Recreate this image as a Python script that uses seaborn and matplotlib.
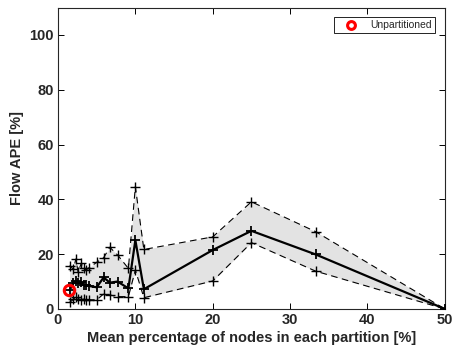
import matplotlib
matplotlib.use("Agg")
import matplotlib.pyplot as plt
import seaborn as sns
import numpy as np

# Mean partition size (% of nodes) and flow APE statistics
partition_pct = [1.5, 2.0, 2.3, 2.6, 3.0, 3.3, 3.6, 4.0, 5.0, 5.9, 6.7, 7.7, 9.1,
                 10.0, 11.1, 20.0, 25.0, 33.3, 50.0]
ape_mean = [6.8, 9.5, 10.2, 9.3, 9.8, 8.8, 8.6, 8.4, 7.9, 11.5, 9.6, 10.0, 7.5,
            25.1, 7.2, 21.5, 28.5, 19.9, 0.0]
ape_upper = [15.8, 14.5, 18.2, 13.5, 16.6, 15.0, 14.2, 15.0, 17.0, 18.7, 22.5, 19.7, 14.8,
             44.6, 21.7, 26.3, 39.1, 28.2, 0.0]
ape_lower = [2.4, 3.5, 4.5, 3.8, 3.2, 3.6, 3.3, 3.4, 3.3, 5.5, 5.1, 4.5, 4.5,
             14.2, 4.1, 10.2, 24.2, 13.8, 0.0]

unpart_x = [1.45]
unpart_y = [6.8]

x_ticks = [0, 10, 20, 30, 40, 50]
y_ticks = [0, 20, 40, 60, 80, 100]

sns.set_style("ticks")
plt.rcParams["font.family"] = ["Liberation Sans", "DejaVu Sans"]
plt.rcParams["font.weight"] = "bold"

fig = plt.figure(figsize=(4.53, 3.58), dpi=100)
ax = fig.add_axes([0.128, 0.137, 0.854, 0.842])

ax.fill_between(partition_pct, ape_lower, ape_upper, color="#e3e3e3", linewidth=0, zorder=1)

for series in (ape_upper, ape_lower):
    sns.lineplot(x=partition_pct, y=series, ax=ax, color="black", linestyle=(0, (6, 4)),
                 linewidth=0.8, marker="+", markersize=6.5, markeredgewidth=1.0,
                 markeredgecolor="black", sort=False, zorder=2)

sns.lineplot(x=partition_pct, y=ape_mean, ax=ax, color="black", linewidth=1.6,
             marker="+", markersize=6.5, markeredgewidth=1.3, markeredgecolor="black",
             sort=False, zorder=3)

ax.plot(unpart_x, unpart_y, linestyle="none", marker="o", markersize=7.5,
        markerfacecolor="none", markeredgecolor="red", markeredgewidth=2.2,
        zorder=4, label="Unpartitioned")

ax.set_xlim(0, 50)
ax.set_ylim(0, 110)
ax.set_xticks(x_ticks)
ax.set_yticks(y_ticks)
ax.tick_params(direction="in", length=4, width=0.7, top=True, right=True,
               labelsize=10.5, colors="black", labelcolor="#262626", pad=3)
for lab in ax.get_xticklabels() + ax.get_yticklabels():
    lab.set_fontweight("bold")
for sp in ax.spines.values():
    sp.set_visible(True)
    sp.set_linewidth(0.8)
    sp.set_color("#262626")

ax.set_xlabel("Mean percentage of nodes in each partition [%]", fontsize=10.5,
              fontweight="bold", color="#262626", labelpad=3)
ax.set_ylabel("Flow APE [%]", fontsize=10.5, fontweight="bold", color="#262626", labelpad=4)

handles, labels = ax.get_legend_handles_labels()
leg = ax.legend(handles, labels, loc="upper right", fontsize=7.5, frameon=True,
                fancybox=False, edgecolor="black", framealpha=1, borderpad=0.3,
                handlelength=2.6, handletextpad=0.6, borderaxespad=0, markerscale=0.75,
                bbox_to_anchor=(0.975, 0.968))
leg.get_frame().set_linewidth(0.6)
for t in leg.get_texts():
    t.set_fontweight("normal")

fig.savefig("out.png", dpi=100)
